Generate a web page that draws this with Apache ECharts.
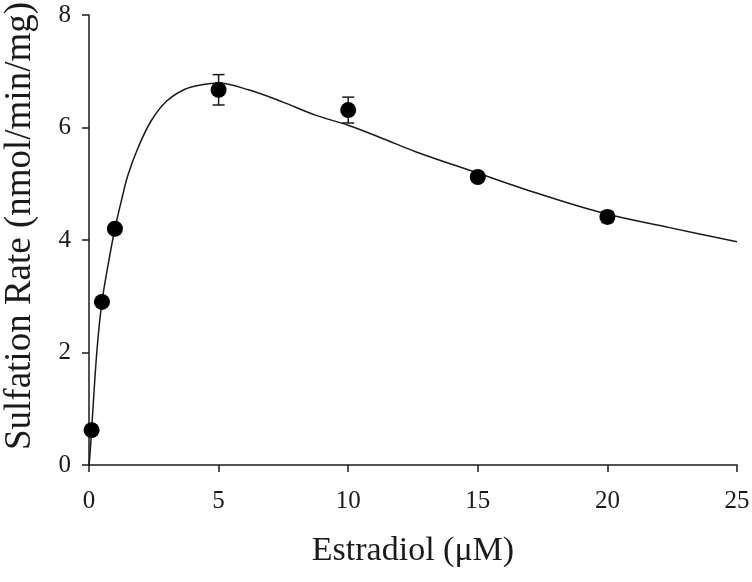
<!DOCTYPE html>
<html>
<head>
<meta charset="utf-8">
<script src="https://cdn.jsdelivr.net/npm/echarts@6/dist/echarts.min.js"></script>
<style>
html,body{margin:0;padding:0;background:#fff;}
#chart{width:752px;height:582px;}
</style>
</head>
<body>
<div id="chart"></div>
<script>
// measured points (mean +/- error)
const concX = [0.1, 0.5, 1, 5, 10, 15, 20];
const rateY = [0.62, 2.9, 4.2, 6.67, 6.31, 5.12, 4.41];
const rateErr = [0.03, 0.03, 0.03, 0.27, 0.23, 0.08, 0.1];

// fitted curve
const fitX = [0, 0.04, 0.1, 0.3, 0.5, 0.8, 1, 1.25, 1.5, 1.9, 2.4, 3, 3.7, 4.35, 5, 6.15, 7.44, 8.73, 10, 11.3, 12.6, 15, 17.3, 19.9, 22.4, 25];
const fitY = [0, 0.2, 0.62, 2.0, 2.9, 3.72, 4.2, 4.7, 5.15, 5.65, 6.12, 6.47, 6.68, 6.76, 6.79, 6.67, 6.46, 6.22, 6.04, 5.81, 5.57, 5.19, 4.83, 4.47, 4.22, 3.97];

const xTicks = [0, 5, 10, 15, 20, 25];
const yTicks = [0, 2, 4, 6, 8];

const font = '"Liberation Serif", "Times New Roman", serif';
const ink = '#1a1a1a';

const chart = echarts.init(document.getElementById('chart'));

const points = concX.map((x, i) => [x, rateY[i]]);
const bars = concX.map((x, i) => [x, rateY[i] - rateErr[i], rateY[i] + rateErr[i]]);
const curve = fitX.map((x, i) => [x, fitY[i]]);

const axisCommon = {
    axisLine: {show: true, lineStyle: {color: ink, width: 1.5}},
    axisTick: {show: true, inside: false, length: 7, lineStyle: {color: ink, width: 1.5}},
    splitLine: {show: false},
    nameLocation: 'middle',
    nameTextStyle: {fontFamily: font, fontSize: 34, color: ink},
    axisLabel: {fontFamily: font, fontSize: 25, color: ink}
};

chart.setOption({
    animation: false,
    backgroundColor: '#fff',
    grid: {left: 89, right: 15, top: 15, bottom: 117, containLabel: false, outerBoundsMode: 'none'},
    xAxis: Object.assign({}, axisCommon, {
        type: 'value',
        min: xTicks[0],
        max: xTicks[xTicks.length - 1],
        interval: xTicks[1] - xTicks[0],
        name: 'Estradiol (μM)',
        nameGap: 69,
        axisLabel: Object.assign({}, axisCommon.axisLabel, {margin: 24})
    }),
    yAxis: Object.assign({}, axisCommon, {
        type: 'value',
        min: yTicks[0],
        max: yTicks[yTicks.length - 1],
        interval: yTicks[1] - yTicks[0],
        name: 'Sulfation Rate (nmol/min/mg)',
        nameGap: 50,
        // left padding nudges the rotated title upward
        nameTextStyle: Object.assign({}, axisCommon.nameTextStyle, {fontSize: 37, padding: [0, 0, 0, 28]}),
        axisLabel: Object.assign({}, axisCommon.axisLabel, {margin: 18})
    }),
    series: [
        {
            type: 'line',
            data: curve,
            smooth: 0.35,
            showSymbol: false,
            lineStyle: {color: ink, width: 1.5},
            z: 2
        },
        {
            type: 'custom',
            data: bars,
            z: 3,
            renderItem: function(params, api){
                const x = api.value(0);
                const lo = api.coord([x, api.value(1)]);
                const hi = api.coord([x, api.value(2)]);
                const half = 6;
                const style = {stroke: ink, lineWidth: 1.5};
                return {
                    type: 'group',
                    children: [
                        {type: 'line', shape: {x1: lo[0], y1: lo[1], x2: hi[0], y2: hi[1]}, style: style},
                        {type: 'line', shape: {x1: lo[0] - half, y1: lo[1], x2: lo[0] + half, y2: lo[1]}, style: style},
                        {type: 'line', shape: {x1: hi[0] - half, y1: hi[1], x2: hi[0] + half, y2: hi[1]}, style: style}
                    ]
                };
            }
        },
        {
            type: 'scatter',
            data: points,
            symbol: 'circle',
            symbolSize: 16,
            itemStyle: {color: '#000', opacity: 1},
            z: 4
        }
    ]
});
</script>
</body>
</html>
